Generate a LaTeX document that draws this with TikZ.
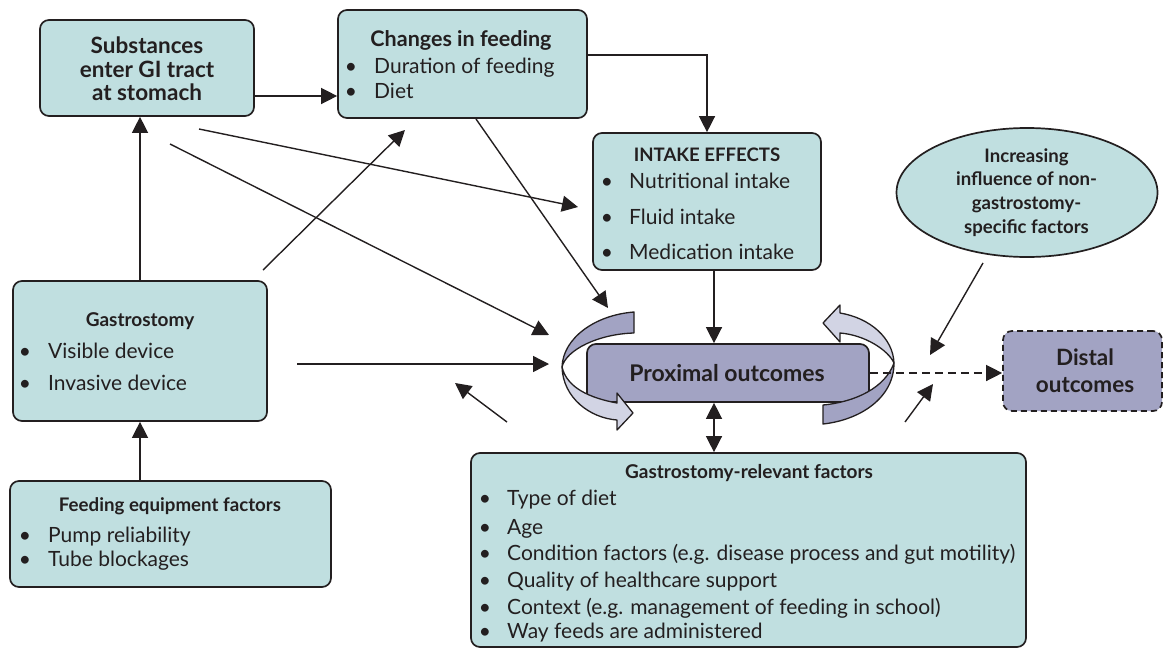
\documentclass[tikz,border=0pt]{standalone}
\usepackage{fontspec}
\setmainfont{Lato}
\usetikzlibrary{arrows.meta,calc,shapes.geometric}
\definecolor{boxfill}{HTML}{C0DFE0}
\definecolor{purp}{HTML}{A2A3C3}
\definecolor{purpl}{HTML}{D2D4E4}
\definecolor{ink}{HTML}{231F20}
\tikzset{
  box/.style={draw=ink, line width=1.7pt, rounded corners=9pt, fill=boxfill, inner sep=0pt},
  pbox/.style={draw=ink, line width=1.7pt, rounded corners=9pt, fill=purp, inner sep=0pt},
  arr/.style={draw=ink, line width=1.4pt, -{Triangle[length=16pt,width=16pt]}},
  darr/.style={draw=ink, line width=1.4pt, {Triangle[length=16pt,width=16pt]}-{Triangle[length=16pt,width=16pt]}},
  rib/.style={draw=ink, line width=1.3pt, line join=round},
  ttl/.style={inner sep=0pt, text=ink, font=\bfseries\fontsize{19}{22}\selectfont},
  txt/.style={inner sep=0pt, anchor=base west, text=ink, font=\fontsize{21}{24}\selectfont},
  blt/.style={inner sep=0pt, anchor=base, text=ink, font=\fontsize{21}{24}\selectfont},
}
\begin{document}
\begin{tikzpicture}[x=1pt,y=-1pt]
\useasboundingbox (0,0) rectangle (1164,648);

% boxes
\node[box, minimum width=214pt, minimum height=96pt] (sub) at (147,68) {};
\node[inner sep=0pt, text=ink, align=center, font=\bfseries\fontsize{22.5}{23.5}\selectfont] (subt) at (147,69) {Substances\\enter GI tract\\at stomach};

\node[box, minimum width=249pt, minimum height=108pt] (chg) at (462.5,64) {};
\node[ttl, font=\bfseries\fontsize{21.5}{24}\selectfont] (chgt) at (461,40) {Changes in feeding};
\node[blt] (chgb1) at (351,73) {•}; \node[txt] (chg1) at (374,73) {Duration of feeding};
\node[blt] (chgb2) at (351,98) {•}; \node[txt] (chg2) at (374,98) {Diet};

\node[box, minimum width=228pt, minimum height=137pt] (int) at (707,201.5) {};
\node[ttl, font=\bfseries\fontsize{18.6}{22}\selectfont] (intt) at (707,155) {INTAKE EFFECTS};
\node[blt] (intb1) at (607,188.5) {•}; \node[txt] (int1) at (629,188.5) {Nutritional intake};
\node[blt] (intb2) at (607,224.5) {•}; \node[txt] (int2) at (629,224.5) {Fluid intake};
\node[blt] (intb3) at (607,259.5) {•}; \node[txt] (int3) at (629,259.5) {Medication intake};

\node[ellipse, draw=ink, line width=1.7pt, fill=boxfill, minimum width=261pt, minimum height=129pt, inner sep=0pt] (ell) at (1027,192.5) {};
\node[inner sep=0pt, text=ink, align=center, font=\bfseries\fontsize{18.6}{23.7}\selectfont] (ellt) at (1026.5,192.5) {Increasing\\influence of non-\\gastrostomy-\\specific factors};

\node[box, minimum width=254pt, minimum height=140pt] (gas) at (140,351) {};
\node[ttl] (gast) at (140,321) {Gastrostomy};
\node[blt] (gasb1) at (25,358.5) {•}; \node[txt] (gas1) at (48,358.5) {Visible device};
\node[blt] (gasb2) at (25,390.5) {•}; \node[txt] (gas2) at (48,390.5) {Invasive device};

\node[box, minimum width=321pt, minimum height=106pt] (feq) at (170.5,534) {};
\node[ttl, font=\bfseries\fontsize{18.7}{22}\selectfont] (feqt) at (170,506) {Feeding equipment factors};
\node[blt] (feqb1) at (25,542.5) {•}; \node[txt] (feq1) at (48,542.5) {Pump reliability};
\node[blt] (feqb2) at (25,566.5) {•}; \node[txt] (feq2) at (48,566.5) {Tube blockages};

\node[box, minimum width=555pt, minimum height=194pt] (grf) at (748.5,550) {};
\node[ttl] (grft) at (749,473) {Gastrostomy-relevant factors};
\foreach \yy/\tt [count=\i] in {505.5/Type of diet, 534.5/Age, 560.5/{Condition factors (e.g. disease process and gut motility)}, 587.5/Quality of healthcare support, 614.5/{Context (e.g. management of feeding in school)}, 638.5/Way feeds are administered}{
  \node[blt] (grfb\i) at (485,\yy) {•};
  \node[txt] (grf\i) at (507,\yy) {\tt};
}

% ribbons behind the box
\path[rib, fill=purp] (634,312) .. controls (595,315) and (563,338) .. (562,367)
   .. controls (566,350) and (598,334) .. (634,333) -- cycle;
\path[rib, fill=purpl] (840,333) -- (840,342) -- (823,323) -- (840,305) -- (840,313)
   .. controls (870,318) and (893,338) .. (894,363)
   .. controls (888,350) and (865,335) .. (840,333) -- cycle;

\node[pbox, minimum width=282pt, minimum height=58pt] (prox) at (728,373) {};
\node[inner sep=0pt, text=ink, font=\bfseries\fontsize{23}{26}\selectfont] (proxt) at (727,373) {Proximal outcomes};

% ribbons in front of the box
\path[rib, fill=purpl] (562,367) .. controls (563,398) and (590,418) .. (617,420)
   -- (617,430) -- (633,413) -- (617,393) -- (617,403)
   .. controls (590,398) and (567,388) .. (562,367) -- cycle;
\path[rib, fill=purp] (894,363) .. controls (894,398) and (860,420) .. (823,424)
   -- (823,405) .. controls (855,402) and (885,388) .. (894,363) -- cycle;

\node[pbox, dashed, dash pattern=on 6pt off 4pt, minimum width=159pt, minimum height=80pt] (dist) at (1082.5,371) {};
\node[inner sep=0pt, text=ink, align=center, font=\bfseries\fontsize{22.5}{27}\selectfont] (distt) at (1085,371) {Distal\\outcomes};

% helper coordinates and free ends
\coordinate (c1) at (0,96);
\coordinate (c2) at (0,55);
\coordinate (c3) at (714,0);
\coordinate (a1s) at (297,364); \coordinate (a1e) at (549,364);
\coordinate (a2s) at (170,144); \coordinate (a2e) at (549,335);
\coordinate (a3s) at (199,129); \coordinate (a3e) at (578,207);
\coordinate (a4s) at (263,270); \coordinate (a4e) at (405,130);
\coordinate (a5s) at (476,119); \coordinate (a5e) at (608,308);
\coordinate (a6s) at (507,422); \coordinate (a6e) at (455,383);
\coordinate (a7s) at (905,422); \coordinate (a7e) at (933,384);
\coordinate (a8s) at (983,263); \coordinate (a8e) at (930,355);

% connectors
\draw[arr] (c1 -| sub.east) -- (c1 -| chg.west);
\draw[arr] (c2 -| chg.east) -| (int.north);
\draw[arr] (gas.north) -- (gas.north |- sub.south);
\draw[arr] (gas.south |- feq.north) -- (gas.south);
\draw[arr] (c3 |- int.south) -- (c3 |- prox.north);
\draw[darr] (c3 |- prox.south) -- (c3 |- grf.north);
\draw[arr, dashed, dash pattern=on 8pt off 5pt] (prox.east) -- (prox.east -| dist.west);
\draw[arr] (a1s) -- (a1e);
\draw[arr] (a2s) -- (a2e);
\draw[arr] (a3s) -- (a3e);
\draw[arr] (a4s) -- (a4e);
\draw[arr] (a5s) -- (a5e);
\draw[arr] (a6s) -- (a6e);
\draw[arr] (a7s) -- (a7e);
\draw[arr] (a8s) -- (a8e);
\end{tikzpicture}
\end{document}
